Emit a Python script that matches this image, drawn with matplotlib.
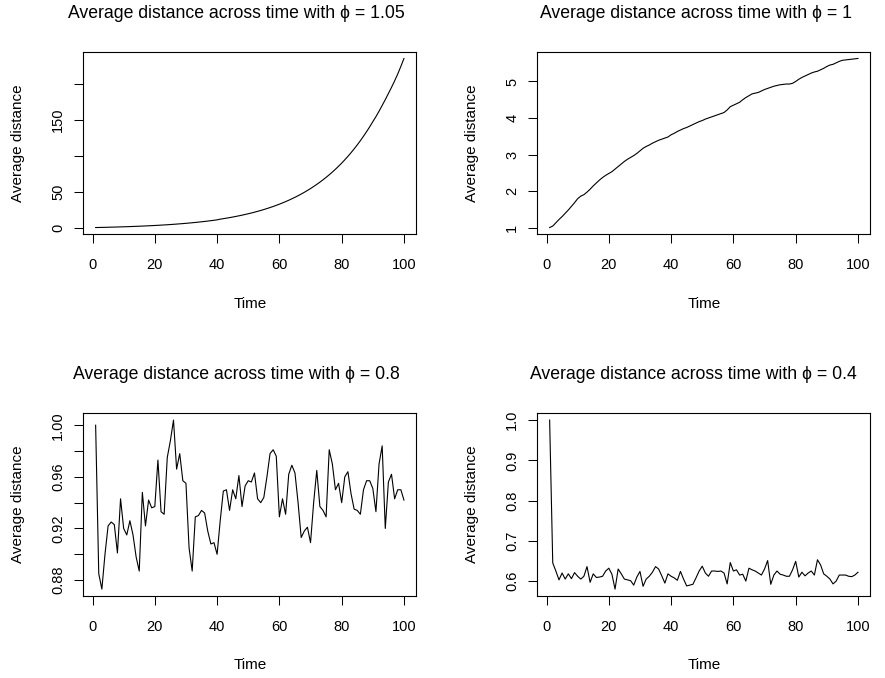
import matplotlib
matplotlib.use("Agg")
import matplotlib.pyplot as plt

plt.rcParams['font.family'] = ['Liberation Sans', 'DejaVu Sans']

time = list(range(1, 101))

phi_labels = ["1.05", "1", "0.8", "0.4"]

dist_105 = [
    1.02, 1.11, 1.21, 1.31, 1.42, 1.54, 1.65, 1.78, 1.91, 2.05,
    2.19, 2.35, 2.51, 2.67, 2.85, 3.04, 3.23, 3.43, 3.65, 3.87,
    4.11, 4.36, 4.62, 4.89, 5.18, 5.48, 5.80, 6.13, 6.48, 6.84,
    7.23, 7.63, 8.06, 8.50, 8.97, 9.46, 9.97, 10.52, 11.08, 11.68,
    12.60, 13.28, 14.00, 14.75, 15.53, 16.36, 17.23, 18.14, 19.10, 20.10,
    21.15, 22.26, 23.43, 24.65, 25.93, 27.28, 28.69, 30.17, 31.73, 33.37,
    35.09, 36.89, 38.79, 40.78, 42.87, 45.06, 47.36, 49.78, 52.32, 54.98,
    57.78, 60.72, 63.81, 67.05, 70.45, 74.02, 77.78, 81.71, 85.85, 90.19,
    94.75, 99.54, 104.57, 109.85, 115.39, 121.21, 127.32, 133.73, 140.47, 147.54,
    154.5, 162.0, 170.0, 178.0, 186.5, 195.0, 204.0, 213.5, 224.0, 235.0,
]

dist_1 = [
    1.00, 1.04, 1.13, 1.22, 1.30, 1.39, 1.48, 1.58, 1.68, 1.79,
    1.86, 1.90, 1.97, 2.05, 2.14, 2.22, 2.30, 2.37, 2.43, 2.48,
    2.53, 2.60, 2.67, 2.74, 2.81, 2.87, 2.92, 2.97, 3.03, 3.10,
    3.17, 3.22, 3.26, 3.31, 3.35, 3.39, 3.42, 3.45, 3.48, 3.54,
    3.58, 3.63, 3.67, 3.71, 3.74, 3.78, 3.82, 3.86, 3.90, 3.93,
    3.97, 4.00, 4.03, 4.06, 4.09, 4.12, 4.15, 4.22, 4.31, 4.35,
    4.39, 4.43, 4.50, 4.56, 4.61, 4.66, 4.68, 4.70, 4.74, 4.78,
    4.81, 4.84, 4.87, 4.89, 4.91, 4.92, 4.93, 4.93, 4.95, 5.00,
    5.06, 5.11, 5.15, 5.19, 5.23, 5.26, 5.28, 5.32, 5.36, 5.41,
    5.45, 5.47, 5.51, 5.55, 5.58, 5.59, 5.60, 5.61, 5.62, 5.63,
]

dist_08 = [
    1.000, 0.885, 0.873, 0.900, 0.922, 0.925, 0.923, 0.901, 0.943, 0.920,
    0.915, 0.926, 0.915, 0.898, 0.887, 0.948, 0.922, 0.942, 0.936, 0.937,
    0.973, 0.933, 0.931, 0.975, 0.988, 1.004, 0.966, 0.978, 0.957, 0.955,
    0.905, 0.887, 0.929, 0.930, 0.934, 0.932, 0.918, 0.908, 0.909, 0.900,
    0.926, 0.949, 0.950, 0.934, 0.950, 0.943, 0.961, 0.937, 0.953, 0.957,
    0.956, 0.963, 0.943, 0.940, 0.944, 0.960, 0.978, 0.981, 0.976, 0.929,
    0.943, 0.931, 0.962, 0.969, 0.963, 0.940, 0.913, 0.918, 0.921, 0.909,
    0.940, 0.965, 0.937, 0.934, 0.929, 0.981, 0.970, 0.950, 0.955, 0.940,
    0.960, 0.964, 0.947, 0.935, 0.934, 0.931, 0.950, 0.957, 0.957, 0.951,
    0.933, 0.970, 0.984, 0.920, 0.956, 0.962, 0.943, 0.950, 0.950, 0.942,
]

dist_04 = [
    1.000, 0.645, 0.625, 0.603, 0.620, 0.605, 0.618, 0.606, 0.621, 0.612,
    0.605, 0.612, 0.636, 0.597, 0.618, 0.609, 0.610, 0.612, 0.625, 0.632,
    0.617, 0.580, 0.630, 0.618, 0.605, 0.603, 0.601, 0.590, 0.610, 0.624,
    0.587, 0.605, 0.612, 0.622, 0.636, 0.630, 0.613, 0.595, 0.618, 0.612,
    0.608, 0.602, 0.624, 0.605, 0.588, 0.590, 0.592, 0.608, 0.625, 0.637,
    0.620, 0.612, 0.625, 0.625, 0.624, 0.625, 0.620, 0.593, 0.646, 0.625,
    0.628, 0.615, 0.617, 0.600, 0.632, 0.628, 0.625, 0.620, 0.615, 0.630,
    0.651, 0.592, 0.615, 0.625, 0.617, 0.615, 0.612, 0.612, 0.628, 0.649,
    0.610, 0.622, 0.613, 0.620, 0.625, 0.615, 0.653, 0.640, 0.618, 0.612,
    0.605, 0.593, 0.600, 0.615, 0.615, 0.615, 0.612, 0.611, 0.615, 0.622,
]

x_ticks = [0, 20, 40, 60, 80, 100]
x_ticklabels = ["0", "20", "40", "60", "80", "100"]

y_ticks_105 = [0, 50, 100, 150, 200]
y_ticklabels_105 = ["0", "50", "", "150", ""]
y_ticks_1 = [1, 2, 3, 4, 5]
y_ticklabels_1 = ["1", "2", "3", "4", "5"]
y_ticks_08 = [0.88, 0.90, 0.92, 0.94, 0.96, 0.98, 1.00]
y_ticklabels_08 = ["0.88", "", "0.92", "", "0.96", "", "1.00"]
y_ticks_04 = [0.6, 0.7, 0.8, 0.9, 1.0]
y_ticklabels_04 = ["0.6", "0.7", "0.8", "0.9", "1.0"]

W, H = 885, 678
fig = plt.figure(figsize=(W / 100, H / 100), dpi=100)

box_w = 333.0
box_h = 182.6
lefts = [83.3, 537.3]
tops = [51.7, 413.3]

panels = [
    (0, 0, dist_105, y_ticks_105, y_ticklabels_105, phi_labels[0], 0.460),
    (1, 0, dist_1, y_ticks_1, y_ticklabels_1, phi_labels[1], 0.478),
    (0, 1, dist_08, y_ticks_08, y_ticklabels_08, phi_labels[2], 0.459),
    (1, 1, dist_04, y_ticks_04, y_ticklabels_04, phi_labels[3], 0.469),
]

for col, row, ys, yt, ytl, phi, tx in panels:
    l = lefts[col]
    t = tops[row]
    ax = fig.add_axes([l / W, 1 - (t + box_h) / H, box_w / W, box_h / H])
    ax.plot(time, ys, color='black', linewidth=0.8)
    ax.margins(x=0.04, y=0.04)
    ax.set_xticks(x_ticks)
    ax.set_xticklabels(x_ticklabels)
    ax.set_yticks(yt)
    ax.set_yticklabels(ytl)
    for sp in ax.spines.values():
        sp.set_linewidth(0.8)
        sp.set_color('black')
    ax.tick_params(axis='both', direction='out', length=6.5, width=0.75,
                   labelsize=10.5, colors='black')
    ax.tick_params(axis='x', pad=10.5)
    ax.tick_params(axis='y', pad=6.5)
    for lab in ax.get_yticklabels():
        lab.set_rotation(90)
        lab.set_va('center')
        lab.set_ha('right')
    ax.set_xlabel("Time", fontsize=11)
    ax.xaxis.set_label_coords(0.5, -69.5 / box_h)
    ax.xaxis.label.set_va('center')
    ax.set_ylabel("Average distance", fontsize=11)
    ax.yaxis.set_label_coords(-65.6 / box_w, 0.5)
    ax.yaxis.label.set_va('center')
    ax.yaxis.label.set_ha('center')
    ax.text(tx, 1 + 38.5 / box_h, "Average distance across time with \u03d5 = " + phi,
            transform=ax.transAxes, ha='center', va='center', fontsize=12.7,
            color='black')

fig.savefig("out.png", dpi=100)
